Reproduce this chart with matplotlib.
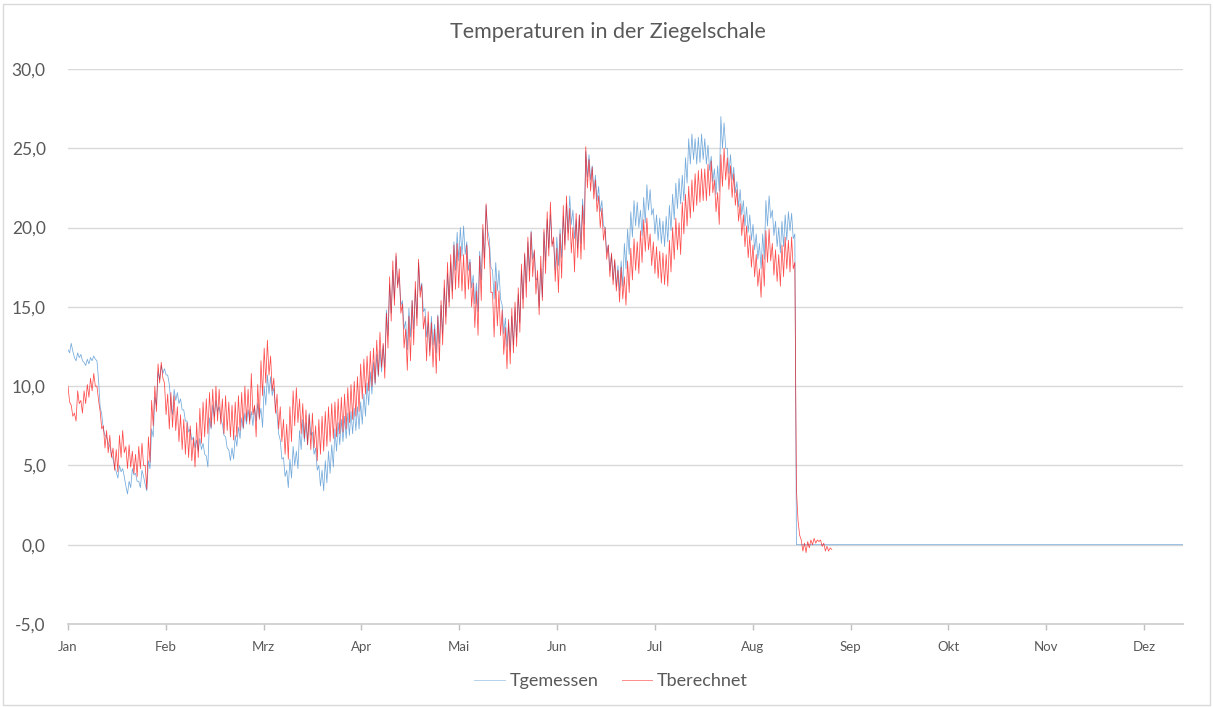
import numpy as np
import matplotlib
matplotlib.use("Agg")
import matplotlib.pyplot as plt
from matplotlib.patches import Rectangle
from matplotlib.lines import Line2D

# ---------------- data ----------------
title = "Temperaturen in der Ziegelschale"
monate = ["Jan", "Feb", "Mrz", "Apr", "Mai", "Jun", "Jul", "Aug", "Sep", "Okt", "Nov", "Dez"]
y_ticks = [-5, 0, 5, 10, 15, 20, 25, 30]
schritt_tage = 0.5            # one value every half day
achse_ende_tage = 346.7       # end of category axis

# Tgemessen, day by day (day value, night value)
tgemessen = [
    12.3, 12.1, 12.7, 12.2, 11.8, 11.6, 12.1, 11.8, 12.0, 11.6, 11.5, 11.3, 11.7, 11.4, 11.8, 11.6, 11.9, 11.7, 11.6, 10.4,
    8.7, 8.2, 7.3, 6.9, 6.8, 6.4, 6.2, 5.7, 5.4, 4.9, 4.6, 4.2, 5.0, 4.6, 4.8, 4.3, 3.7, 3.2, 4.0, 3.6,
    4.8, 4.4, 4.5, 4.0, 4.0, 3.6, 4.7, 4.3, 3.8, 3.4, 5.3, 4.8, 7.3, 6.8, 9.3, 8.8, 10.9, 10.4, 11.3, 10.8,
    11.1, 10.7, 10.7, 10.1, 8.9, 8.2, 9.8, 9.1, 9.6, 8.9, 9.2, 8.5, 8.5, 7.8, 7.8, 7.1, 7.3, 6.6, 6.8, 6.1,
    6.6, 5.9, 6.7, 6.0, 6.4, 5.7, 5.6, 4.9, 8.0, 7.3, 8.8, 8.1, 9.1, 8.4, 8.7, 8.0, 7.6, 6.9, 6.8, 6.1,
    6.0, 5.3, 6.1, 5.4, 6.9, 6.2, 7.4, 6.7, 8.0, 7.3, 8.3, 7.6, 8.5, 7.8, 8.4, 7.5, 8.7, 7.8, 8.9, 8.0,
    8.6, 7.4, 10.0, 8.8, 10.7, 9.5, 10.6, 9.4, 9.9, 8.7, 8.2, 7.0, 6.6, 5.4, 5.5, 4.3, 4.7, 3.6, 5.4, 4.2,
    6.2, 5.0, 5.9, 4.8, 7.2, 6.0, 7.9, 6.5, 7.7, 6.3, 8.3, 6.9, 7.1, 5.7, 6.1, 4.7, 5.0, 3.7, 4.7, 3.4,
    5.3, 3.9, 5.9, 4.5, 6.3, 4.9, 7.3, 5.9, 7.7, 6.3, 7.9, 6.5, 8.1, 6.7, 8.3, 6.9, 8.4, 7.0, 8.6, 7.2,
    8.7, 7.3, 9.0, 7.6, 9.5, 8.1, 10.2, 8.8, 10.9, 9.5, 11.5, 10.1, 12.0, 10.6, 12.3, 10.9, 12.6, 11.2, 14.8, 13.2,
    16.4, 14.6, 17.3, 15.5, 18.2, 16.4, 16.9, 15.1, 15.4, 13.6, 14.1, 12.3, 14.9, 13.1, 15.4, 13.6, 16.1, 14.3, 17.8, 16.0,
    16.5, 14.7, 14.9, 13.1, 14.0, 12.2, 14.4, 12.6, 13.9, 12.1, 14.5, 12.7, 15.1, 13.3, 16.2, 14.4, 17.1, 15.3, 17.8, 16.0,
    19.1, 17.3, 19.7, 17.9, 20.0, 18.2, 20.1, 18.3, 19.1, 17.3, 18.0, 16.2, 17.0, 15.2, 16.5, 14.7, 18.5, 16.7, 19.9, 18.1,
    21.4, 19.8, 19.3, 17.5, 17.3, 15.5, 17.8, 16.0, 17.3, 15.5, 15.1, 13.3, 14.3, 12.5, 14.0, 12.2, 14.4, 12.6, 14.9, 13.1,
    15.8, 14.0, 17.3, 15.5, 18.3, 16.5, 19.1, 17.3, 19.8, 18.0, 18.5, 16.7, 16.8, 15.0, 17.4, 15.6, 19.7, 17.9, 20.5, 18.7,
    20.8, 19.0, 19.1, 17.3, 19.4, 17.6, 19.9, 18.1, 20.7, 18.9, 21.5, 19.7, 22.0, 20.2, 21.1, 19.3, 20.5, 18.7, 20.8, 19.0,
    21.8, 20.2, 24.8, 23.2, 24.6, 23.0, 23.9, 22.3, 23.3, 21.7, 22.6, 21.0, 21.7, 20.1, 20.0, 18.4, 18.9, 17.3, 18.3, 16.7,
    17.9, 16.3, 17.6, 16.0, 17.9, 16.3, 19.0, 17.4, 19.9, 18.3, 21.0, 19.4, 21.7, 20.1, 21.6, 20.0, 21.1, 19.5, 21.9, 20.3,
    22.7, 21.1, 22.4, 20.8, 21.2, 19.6, 20.8, 19.2, 20.6, 19.0, 20.4, 18.8, 20.7, 19.1, 21.4, 19.8, 22.1, 20.5, 22.8, 21.2,
    23.1, 21.5, 23.3, 21.7, 24.4, 22.8, 25.6, 24.0, 25.9, 24.3, 25.6, 24.0, 25.7, 24.1, 25.9, 24.3, 25.6, 24.0, 25.2, 23.6,
    24.5, 22.9, 23.7, 22.1, 23.9, 22.3, 27.0, 25.0, 26.6, 25.0, 25.0, 23.4, 24.6, 23.0, 23.8, 22.2, 22.9, 21.3, 22.4, 20.8,
    21.7, 20.1, 21.3, 19.7, 20.8, 19.2, 20.2, 18.6, 19.6, 18.0, 19.0, 17.4, 19.6, 18.0, 21.7, 20.1, 22.0, 20.6, 21.1, 19.5,
    20.4, 18.8, 20.0, 18.4, 20.4, 18.8, 20.8, 19.2, 21.0, 19.8, 20.9, 19.3, 19.6, 0.0,
]
# after the sensor failure the measured series stays at 0 up to the axis end
tgemessen_rest = [0.0]

# Tberechnet, day by day (day value, night value)
tberechnet = [
    10.0, 9.0, 8.8, 8.1, 8.3, 7.8, 9.7, 8.9, 9.1, 8.3, 9.7, 8.9, 10.1, 9.3, 10.5, 9.7, 10.8, 10.0, 10.0, 9.1,
    8.4, 7.3, 7.5, 6.1, 7.2, 5.8, 6.9, 5.5, 6.1, 4.7, 6.0, 4.6, 6.9, 5.5, 7.2, 5.8, 6.2, 4.8, 6.3, 4.9,
    5.9, 4.5, 5.7, 4.3, 6.2, 4.8, 6.4, 5.0, 5.0, 3.5, 6.8, 5.2, 9.1, 7.5, 10.0, 8.4, 11.4, 10.2, 11.5, 10.5,
    10.2, 8.2, 9.5, 7.3, 9.6, 7.4, 9.4, 7.2, 8.7, 6.5, 8.2, 6.0, 7.9, 5.7, 7.7, 5.5, 7.5, 5.3, 6.7, 4.9,
    7.7, 5.5, 8.6, 6.4, 9.0, 6.8, 9.2, 7.0, 9.6, 7.4, 9.8, 7.6, 10.0, 7.8, 9.8, 7.6, 9.2, 7.0, 9.4, 7.2,
    9.0, 6.8, 8.8, 6.6, 9.0, 6.8, 9.4, 7.2, 9.6, 7.4, 10.0, 7.8, 9.8, 7.6, 10.8, 8.2, 8.8, 6.8, 10.1, 7.9,
    11.6, 9.4, 12.4, 10.2, 12.9, 10.7, 11.9, 9.7, 10.5, 8.3, 9.5, 7.3, 8.7, 6.5, 7.9, 5.7, 7.6, 5.4, 8.7, 6.5,
    9.7, 7.5, 9.9, 7.7, 9.2, 7.0, 8.9, 6.7, 8.5, 6.3, 8.2, 6.0, 8.3, 6.1, 7.5, 5.3, 7.9, 5.7, 8.1, 5.9,
    8.4, 6.2, 8.7, 6.5, 8.9, 6.7, 9.0, 6.8, 9.2, 7.0, 9.3, 7.1, 9.5, 7.3, 9.9, 7.7, 10.1, 7.9, 10.3, 8.1,
    10.6, 8.4, 11.4, 9.2, 11.7, 9.5, 11.9, 9.7, 12.2, 10.0, 12.4, 10.2, 12.9, 10.7, 13.4, 11.2, 12.7, 10.5, 14.6, 12.4,
    16.9, 14.1, 17.9, 15.1, 18.4, 16.2, 17.4, 14.6, 15.2, 12.4, 13.6, 11.0, 14.4, 11.6, 15.4, 12.6, 16.6, 13.8, 18.0, 15.6,
    16.4, 13.6, 14.4, 11.6, 14.7, 11.9, 14.0, 11.2, 13.6, 10.8, 14.4, 11.6, 15.4, 12.6, 16.7, 13.9, 17.8, 15.0, 18.3, 15.5,
    18.9, 16.1, 19.0, 16.2, 18.8, 16.0, 18.3, 15.5, 18.9, 16.1, 17.8, 15.0, 16.5, 13.7, 16.0, 13.2, 18.2, 15.4, 20.2, 17.4,
    21.5, 19.3, 18.7, 15.9, 15.9, 13.1, 16.6, 13.8, 16.0, 13.2, 14.8, 12.0, 13.7, 11.1, 14.2, 11.4, 14.9, 12.1, 15.3, 12.5,
    16.2, 13.4, 17.7, 14.9, 18.4, 15.6, 19.4, 16.6, 19.7, 16.9, 18.6, 15.8, 17.3, 14.5, 18.2, 15.4, 19.9, 17.1, 21.0, 18.2,
    21.6, 18.8, 19.4, 16.6, 18.7, 15.9, 19.6, 16.8, 21.4, 18.6, 22.0, 19.2, 21.2, 18.4, 20.0, 17.2, 20.9, 18.1, 20.8, 18.0,
    21.4, 18.6, 25.1, 22.5, 24.3, 22.3, 23.8, 21.8, 23.0, 21.0, 22.0, 20.0, 21.2, 19.2, 20.0, 18.0, 18.9, 16.9, 18.4, 16.4,
    18.0, 16.0, 17.3, 15.3, 17.5, 15.5, 16.9, 15.1, 17.9, 15.9, 18.7, 16.7, 19.3, 17.3, 19.1, 17.1, 19.8, 17.8, 20.5, 18.5,
    20.6, 18.6, 19.6, 17.6, 19.1, 17.1, 18.8, 16.8, 18.5, 16.5, 18.4, 16.4, 18.3, 16.3, 19.2, 17.2, 20.0, 18.0, 20.6, 18.6,
    20.3, 18.3, 21.6, 19.6, 22.1, 20.1, 22.6, 20.6, 23.0, 21.0, 23.4, 21.4, 23.6, 21.6, 23.7, 21.7, 23.7, 21.7, 24.0, 22.0,
    24.2, 22.2, 23.0, 21.0, 22.2, 20.2, 24.6, 22.6, 25.0, 23.0, 24.4, 22.4, 23.9, 21.9, 23.4, 21.4, 22.4, 20.4, 21.5, 19.5,
    20.8, 18.8, 20.1, 18.1, 19.5, 17.5, 18.9, 16.9, 18.3, 16.3, 17.4, 15.6, 18.3, 16.3, 19.8, 17.8, 19.9, 17.9, 19.0, 17.0,
    18.6, 16.6, 18.3, 16.3, 18.9, 16.9, 19.4, 17.4, 19.2, 17.2, 19.4, 17.4, 17.8, 3.5, 1.5, 0.6, 0.3, -0.4, 0.1, -0.5,
    0.2, -0.2, 0.3, 0.0, 0.4, 0.1, 0.3, 0.2, 0.3, -0.1, 0.1, -0.4, -0.1, -0.4, -0.2, -0.3,
]

serien_namen = ["Tgemessen", "Tberechnet"]
farben = ["#5B9BD5", "#FF0000"]

# ---------------- figure ----------------
plt.rcParams["font.family"] = ["Lato", "DejaVu Sans"]
text_farbe = "#595959"

fig = plt.figure(figsize=(12.13, 7.07), dpi=100)
ax = fig.add_axes([68 / 1213, 1 - 624 / 707, (1183 - 68) / 1213, (624 - 69) / 707])

tage_g = np.arange(len(tgemessen)) * schritt_tage
tage_g = np.append(tage_g, achse_ende_tage)
werte_g = np.array(tgemessen + tgemessen_rest)
tage_b = np.arange(len(tberechnet)) * schritt_tage
werte_b = np.array(tberechnet)

ax.plot(tage_g, werte_g, color=farben[0], lw=0.55, alpha=0.85, zorder=3)
ax.plot(tage_b, werte_b, color=farben[1], lw=0.55, alpha=0.7, zorder=4)

ax.set_xlim(0, achse_ende_tage)
ax.set_ylim(-5, 30)
monat_pos = np.arange(12) * 365 / 12
ax.set_xticks(monat_pos)
ax.set_xticklabels(monate, fontsize=9.5, color=text_farbe)
ax.set_yticks(y_ticks)
ax.set_yticklabels([f"{v:.1f}".replace(".", ",") for v in y_ticks], fontsize=12.5, color=text_farbe)
ax.tick_params(axis="y", length=0, pad=16)
ax.tick_params(axis="x", length=4, width=1, color="#bfbfbf", pad=8, direction="out")

ax.grid(axis="y", color="#d9d9d9", lw=1)
ax.set_axisbelow(True)
for s in ["top", "right", "left"]:
    ax.spines[s].set_visible(False)
ax.spines["bottom"].set_color("#d0d0d0")
ax.spines["bottom"].set_linewidth(1.3)

fig.text(608 / 1213, 1 - 32 / 707, title, ha="center", va="center", fontsize=15.5, color=text_farbe)

handles = [Line2D([0], [0], color=farben[0], lw=0.7, alpha=0.45),
           Line2D([0], [0], color=farben[1], lw=0.7, alpha=0.45)]
fig.legend(handles, serien_namen, loc="center", bbox_to_anchor=(611 / 1213, 1 - 681 / 707),
           ncol=2, frameon=False, fontsize=13, labelcolor=text_farbe,
           handlelength=1.7, handletextpad=0.25, columnspacing=1.3)

fig.patches.append(Rectangle((3 / 1213, 2 / 707), 1207 / 1213, 701 / 707, transform=fig.transFigure,
                             fill=False, edgecolor="#d9d9d9", lw=1))

fig.savefig("out.png", dpi=100, facecolor="white")
